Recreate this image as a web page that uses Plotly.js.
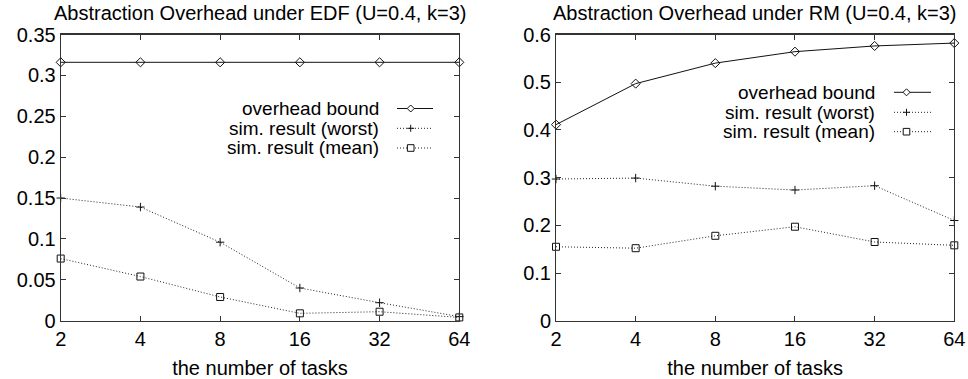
<!DOCTYPE html>
<html><head><meta charset="utf-8">
<script src="https://cdn.plot.ly/plotly-3.0.1.min.js"></script>
<style>html,body{margin:0;padding:0;background:#fff}#chart{width:968px;height:379px}</style>
</head><body><div id="chart"></div>
<script>
// ---- data ----
const tasks = [2, 4, 8, 16, 32, 64];
const taskLabels = ['2', '4', '8', '16', '32', '64'];
const edfBound = [0.316, 0.316, 0.316, 0.316, 0.316, 0.316];
const edfWorst = [0.150, 0.139, 0.096, 0.040, 0.022, 0.005];
const edfMean  = [0.076, 0.054, 0.029, 0.009, 0.011, 0.004];
const rmBound  = [0.411, 0.497, 0.540, 0.564, 0.576, 0.582];
const rmWorst  = [0.297, 0.299, 0.282, 0.274, 0.283, 0.210];
const rmMean   = [0.155, 0.152, 0.178, 0.197, 0.165, 0.158];
const seriesNames = ['overhead bound', 'sim. result (worst)', 'sim. result (mean)'];
const edfTickVals = [0, 0.05, 0.1, 0.15, 0.2, 0.25, 0.3, 0.35];
const edfTickText = ['0', '0.05', '0.1', '0.15', '0.2', '0.25', '0.3', '0.35'];
const rmTickVals = [0, 0.1, 0.2, 0.3, 0.4, 0.5, 0.6];
const rmTickText = ['0', '0.1', '0.2', '0.3', '0.4', '0.5', '0.6'];
const titles = ['Abstraction Overhead under EDF (U=0.4, k=3)', 'Abstraction Overhead under RM (U=0.4, k=3)'];
const xTitle = 'the number of tasks';

// ---- styles ----
const W = 968, H = 379;
const FONT = '"Liberation Sans", Arial, Helvetica, sans-serif';
const INK = '#111';
const DOTS = '1px,2px';
const styles = [
  {line: {color: INK, width: 1, dash: 'solid'}, marker: {symbol: 'diamond-open', size: 7, color: INK, line: {color: INK, width: 1}}},
  {line: {color: '#222', width: 1, dash: DOTS}, marker: {symbol: 'cross-thin-open', size: 6, color: INK, line: {color: INK, width: 1}}},
  {line: {color: '#222', width: 1, dash: DOTS}, marker: {symbol: 'square-open', size: 7, color: INK, line: {color: INK, width: 1}}}
];

function px2x(p) { return p / W; }
function px2y(p) { return (H - p) / H; }

const panels = [
  {series: [edfBound, edfWorst, edfMean], xa: 'x', ya: 'y', dom: [60.7, 459.3]},
  {series: [rmBound, rmWorst, rmMean], xa: 'x2', ya: 'y2', dom: [556, 954.3]}
];

const traces = [];
panels.forEach(p => {
  p.series.forEach((vals, i) => {
    traces.push({
      type: 'scatter', mode: 'lines+markers', x: tasks, y: vals,
      name: seriesNames[i], xaxis: p.xa, yaxis: p.ya,
      line: styles[i].line, marker: styles[i].marker,
      cliponaxis: false, showlegend: false
    });
  });
});

const yDom = [px2y(320.7), px2y(34.5)];
const EPS = 1e-5;

function xAxis(dom, anchor) {
  return {
    type: 'log', range: [Math.log10(2) - EPS, Math.log10(64) + EPS],
    tickmode: 'array', tickvals: tasks, ticktext: taskLabels,
    domain: [px2x(dom[0]), px2x(dom[1])], anchor: anchor,
    showline: true, mirror: 'ticks', linecolor: '#333', linewidth: 1.2,
    ticks: 'inside', ticklen: 5, tickcolor: '#333', tickwidth: 1,
    showgrid: false, zeroline: false, automargin: false,
    tickfont: {family: FONT, size: 20, color: '#000'},
    title: {text: xTitle, font: {family: FONT, size: 20, color: '#000'}, standoff: 13}
  };
}
function yAxis(range, tv, tt, anchor) {
  return {
    range: range, tickmode: 'array', tickvals: tv, ticktext: tt,
    domain: yDom, anchor: anchor,
    showline: true, mirror: 'ticks', linecolor: '#333', linewidth: 1,
    ticks: 'inside', ticklen: 5, tickcolor: '#333', tickwidth: 1,
    showgrid: false, zeroline: false, automargin: false,
    tickfont: {family: FONT, size: 20, color: '#000'}
  };
}

// ---- legend (text right, sample to the right, gnuplot style) ----
const annotations = [];
const shapes = [];
const legends = [
  {textRight: 380, lineX: [397, 433], markX: 410.7, rows: [108.5, 128.3, 148]},
  {textRight: 876, lineX: [894, 931], markX: 906.5, rows: [92.3, 112.3, 131.7]}
];
legends.forEach(lg => {
  lg.rows.forEach((ry, i) => {
    annotations.push({
      xref: 'paper', yref: 'paper', x: px2x(lg.textRight), y: px2y(ry),
      xanchor: 'right', yanchor: 'middle', showarrow: false,
      text: seriesNames[i], font: {family: FONT, size: 19, color: '#000'}, borderpad: 0
    });
    shapes.push({
      type: 'line', xref: 'paper', yref: 'paper',
      x0: px2x(lg.lineX[0]), x1: px2x(lg.lineX[1]), y0: px2y(ry), y1: px2y(ry),
      line: {color: styles[i].line.color, width: 1, dash: styles[i].line.dash}
    });
    const cx = lg.markX, cy = ry;
    let path;
    if (i === 0) {
      const r = 3.5;
      path = `M${px2x(cx - r)},${px2y(cy)} L${px2x(cx)},${px2y(cy - r)} L${px2x(cx + r)},${px2y(cy)} L${px2x(cx)},${px2y(cy + r)} Z`;
      shapes.push({type: 'path', xref: 'paper', yref: 'paper', path: path, fillcolor: '#fff', line: {color: INK, width: 1}});
    } else if (i === 1) {
      const r = 3.5;
      path = `M${px2x(cx - r)},${px2y(cy)} L${px2x(cx + r)},${px2y(cy)} M${px2x(cx)},${px2y(cy - r)} L${px2x(cx)},${px2y(cy + r)}`;
      shapes.push({type: 'path', xref: 'paper', yref: 'paper', path: path, line: {color: INK, width: 1}});
    } else {
      const r = 3.3;
      shapes.push({type: 'rect', xref: 'paper', yref: 'paper', x0: px2x(cx - r), x1: px2x(cx + r), y0: px2y(cy + r), y1: px2y(cy - r), fillcolor: '#fff', line: {color: INK, width: 1}});
    }
  });
});

// ---- panel titles ----
panels.forEach((p, k) => {
  annotations.push({
    xref: 'paper', yref: 'paper', x: px2x((p.dom[0] + p.dom[1]) / 2), y: px2y(13),
    xanchor: 'center', yanchor: 'middle', showarrow: false,
    text: titles[k], font: {family: FONT, size: 20, color: '#000'}
  });
});

const layout = {
  width: W, height: H, margin: {l: 0, r: 0, t: 0, b: 0},
  paper_bgcolor: '#fff', plot_bgcolor: '#fff',
  font: {family: FONT, size: 20, color: '#000'},
  showlegend: false,
  xaxis: xAxis(panels[0].dom, 'y'),
  yaxis: yAxis([0, 0.35], edfTickVals, edfTickText, 'x'),
  xaxis2: xAxis(panels[1].dom, 'y2'),
  yaxis2: yAxis([0, 0.6], rmTickVals, rmTickText, 'x2'),
  annotations: annotations,
  shapes: shapes
};

Plotly.newPlot('chart', traces, layout, {displayModeBar: false, staticPlot: true});
</script>
</body></html>
